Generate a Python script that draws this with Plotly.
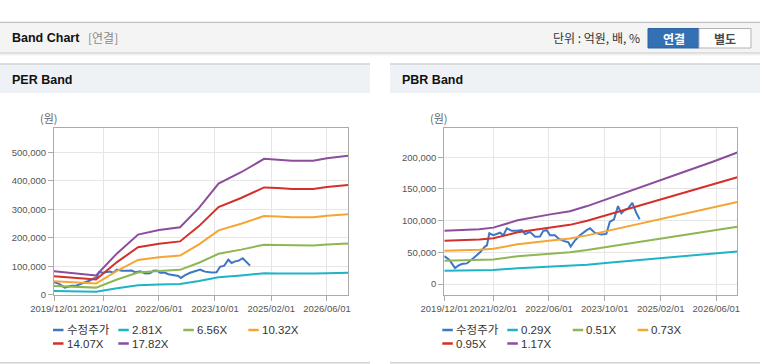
import plotly.graph_objects as go

W, H = 760, 364

# ---------------- data ----------------
series_names_per = ["수정주가", "2.81X", "6.56X", "10.32X", "14.07X", "17.82X"]
series_names_pbr = ["수정주가", "0.29X", "0.51X", "0.73X", "0.95X", "1.17X"]
series_colors = ["#3b77c6", "#1fb3c6", "#8db753", "#f5a532", "#d3302b", "#8c4d9d"]

price_dates = [
    "2019-12-01", "2020-01-15", "2020-03-03", "2020-04-01", "2020-05-01", "2020-06-15",
    "2020-08-10", "2020-10-08", "2020-11-20", "2020-12-07", "2020-12-28", "2021-02-01",
    "2021-04-01", "2021-04-30", "2021-05-30", "2021-07-12", "2021-08-25", "2021-10-07",
    "2021-11-05", "2021-12-19", "2022-02-01", "2022-03-15", "2022-04-13", "2022-05-13",
    "2022-06-11", "2022-07-24", "2022-08-22", "2022-10-05", "2022-11-17", "2022-12-08",
    "2023-01-15", "2023-02-27", "2023-04-27", "2023-05-26", "2023-06-06", "2023-07-06",
    "2023-09-01", "2023-10-15", "2023-11-14", "2023-12-21", "2024-01-25", "2024-02-23",
    "2024-03-24", "2024-04-21", "2024-05-29", "2024-07-03", "2024-08-01",
]
price_values = [
    44000, 38000, 25000, 29000, 31500, 32500,
    40500, 50000, 59000, 61000, 80000, 77000,
    81000, 77000, 88000, 84000, 84000, 85000,
    79000, 82000, 74500, 75000, 84000, 85000,
    77000, 77000, 72000, 68000, 66000, 59000,
    69000, 77000, 85000, 88000, 86000, 81000,
    78000, 79000, 98000, 102000, 123000, 111500,
    117000, 119000, 128000, 112000, 102000,
]

per_dates = [
    "2019-12-01", "2020-06-01", "2020-11-01", "2020-12-01", "2021-06-01", "2021-12-01",
    "2022-06-01", "2022-12-01", "2023-05-15", "2023-11-01", "2024-05-15", "2024-12-01",
    "2025-04-01", "2025-08-01", "2026-02-01", "2026-06-01", "2026-12-01",
]
per_eps = [
    4602, 4153, 3830, 3790, 8137, 11841,
    12738, 13300, 17116, 21886, 24130, 26768,
    26599, 26375, 26375, 26880, 27385,
]
per_multiples = [2.81, 6.56, 10.32, 14.07, 17.82]

pbr_dates = [
    "2019-12-01", "2020-06-01", "2020-10-01", "2021-02-01", "2021-09-01", "2022-06-01",
    "2022-12-01", "2023-05-01", "2023-11-01", "2024-06-01", "2025-01-01", "2025-09-01",
    "2026-05-01", "2026-12-01",
]
pbr_bps = [
    71795, 72650, 73932, 76068, 85897, 93590,
    98291, 105128, 115385, 126923, 138889, 151709,
    164957, 177350,
]
pbr_multiples = [0.29, 0.51, 0.73, 0.95, 1.17]

x_tick_vals = ["2019-12-01", "2021-02-01", "2022-06-01", "2023-10-01", "2025-02-01", "2026-06-01"]
x_tick_text = ["2019/12/01", "2021/02/01", "2022/06/01", "2023/10/01", "2025/02/01", "2026/06/01"]
per_y_ticks = [0, 100000, 200000, 300000, 400000, 500000]
pbr_y_ticks = [0, 50000, 100000, 150000, 200000]

# ---------------- helpers ----------------
def fx(x):
    return x / W

def fy(y):
    return 1 - y / H

TICK_FONT = dict(family="Liberation Sans, Arial, sans-serif", size=9.5, color="#555555")
TXT_FONT = "Liberation Sans, Noto Sans CJK KR, sans-serif"
KOR_FONT = "Noto Sans CJK KR, Liberation Sans, sans-serif"

fig = go.Figure()

# PER traces
fig.add_trace(go.Scatter(x=price_dates, y=price_values, mode="lines", name=series_names_per[0],
                         line=dict(color=series_colors[0], width=2), xaxis="x", yaxis="y",
                         showlegend=False))
for i, m in enumerate(per_multiples):
    fig.add_trace(go.Scatter(x=per_dates, y=[round(e * m) for e in per_eps], mode="lines",
                             name=series_names_per[i + 1],
                             line=dict(color=series_colors[i + 1], width=2),
                             xaxis="x", yaxis="y", showlegend=False))

# PBR traces
fig.add_trace(go.Scatter(x=price_dates, y=price_values, mode="lines", name=series_names_pbr[0],
                         line=dict(color=series_colors[0], width=2), xaxis="x2", yaxis="y2",
                         showlegend=False))
for i, m in enumerate(pbr_multiples):
    fig.add_trace(go.Scatter(x=pbr_dates, y=[round(b * m) for b in pbr_bps], mode="lines",
                             name=series_names_pbr[i + 1],
                             line=dict(color=series_colors[i + 1], width=2),
                             xaxis="x2", yaxis="y2", showlegend=False))

plot_top, plot_bot = 128.3, 294.7
ydom = [fy(plot_bot), fy(plot_top)]

common_x = dict(type="date", range=["2019-12-01", "2026-12-01"], tickmode="array",
                tickvals=x_tick_vals, ticktext=x_tick_text, tickangle=0, showgrid=True,
                gridcolor="#e6e6e6", gridwidth=1, showline=True, linecolor="#ababab",
                linewidth=1, mirror=True, ticks="outside", ticklen=5, tickcolor="#ababab",
                tickfont=TICK_FONT, zeroline=False, fixedrange=True, automargin=False)
common_y = dict(tickmode="array", tickformat=",", showgrid=True, gridcolor="#e6e6e6",
                gridwidth=1, showline=True, linecolor="#ababab", linewidth=1, mirror=True,
                ticks="outside", ticklen=5, tickcolor="#ababab", tickfont=TICK_FONT,
                zeroline=False, fixedrange=True, automargin=False)

fig.update_layout(
    width=W, height=H, autosize=False, margin=dict(l=0, r=0, t=0, b=0, pad=0),
    paper_bgcolor="white", plot_bgcolor="white", showlegend=False,
    xaxis=dict(domain=[fx(54), fx(348)], anchor="y", **common_x),
    yaxis=dict(domain=ydom, anchor="x", range=[0, 584300], tickvals=per_y_ticks, **common_y),
    xaxis2=dict(domain=[fx(444.3), fx(737.3)], anchor="y2", **common_x),
    yaxis2=dict(domain=ydom, anchor="x2", range=[-16900, 245800], tickvals=pbr_y_ticks,
                **common_y),
)

shapes = []
annotations = []

def rect(x0, y0, x1, y1, fill, line_color=None, lw=0):
    shapes.append(dict(type="rect", xref="paper", yref="paper", x0=fx(x0), x1=fx(x1),
                       y0=fy(y1), y1=fy(y0), fillcolor=fill, layer="below",
                       line=dict(color=line_color or fill, width=lw)))

def hline(x0, x1, y, color, lw=1):
    shapes.append(dict(type="line", xref="paper", yref="paper", x0=fx(x0), x1=fx(x1),
                       y0=fy(y), y1=fy(y), line=dict(color=color, width=lw)))

def text(x, y, s, size=12, color="#333333", anchor="left", family=TXT_FONT):
    annotations.append(dict(xref="paper", yref="paper", x=fx(x), y=fy(y), text=s,
                            showarrow=False, xanchor=anchor, yanchor="middle",
                            font=dict(family=family, size=size, color=color)))

# header bar
rect(0, 22, 760, 52.5, "#f4f4f4")
hline(0, 760, 22.3, "#b5b5b5", 1)
hline(0, 760, 53, "#c2c2c2", 1)
hline(0, 760, 54, "#e2e2e2", 1)
hline(0, 760, 55, "#f1f1f1", 1)
text(10, 38, "<b>Band Chart</b>", 12.5, "#111111")
text(86, 38, "[연결]", 12, "#8a8a8a", family=KOR_FONT)
text(642, 38, "단위 : 억원, 배, %", 12, "#333333", anchor="right", family=KOR_FONT)
rect(648, 28.5, 699, 48, "#3470b4", "#2c62a2", 1)
rect(699, 28.5, 751, 48, "#ffffff", "#b3b3b3", 1)
text(673.5, 38.3, "<b>연결</b>", 12, "#ffffff", anchor="center", family=KOR_FONT)
text(725, 38.3, "<b>별도</b>", 12, "#4a4a4a", anchor="center", family=KOR_FONT)

# panel headers
for x0, x1, title in [(0, 370, "PER Band"), (390, 760, "PBR Band")]:
    rect(x0, 64, x1, 93, "#eef2f7")
    hline(x0, x1, 64, "#d2d2d2", 1.5)
    hline(x0, x1, 362.8, "#d2d2d2", 1.5)
    text(x0 + 10, 80, "<b>" + title + "</b>", 12.5, "#111111")

# unit labels
text(48.5, 118.5, "(원)", 11, "#666666", anchor="center", family=KOR_FONT)
text(438.5, 118.5, "(원)", 11, "#666666", anchor="center", family=KOR_FONT)

# custom legends
def legend(items_x, rows_y, names):
    slots = [(items_x[0], rows_y[0]), (items_x[1], rows_y[0]), (items_x[2], rows_y[0]),
             (items_x[3], rows_y[0]), (items_x[0], rows_y[1]), (items_x[1], rows_y[1])]
    for (x, y), name, col in zip(slots, names, series_colors):
        hline(x, x + 10.5, y, col, 2.5)
        text(x + 11.5, y, name, 11.5, "#333333")

legend([53, 118.3, 183.3, 248.3], [330, 343.5], series_names_per)
legend([442.3, 507.3, 572.7, 637.7], [330, 343.5], series_names_pbr)

fig.update_layout(shapes=shapes, annotations=annotations)
fig.write_html(
    "out.html",
    config={"displayModeBar": False, "responsive": False},
    post_script="document.body.style.margin='0';document.body.style.overflow='hidden';",
)
